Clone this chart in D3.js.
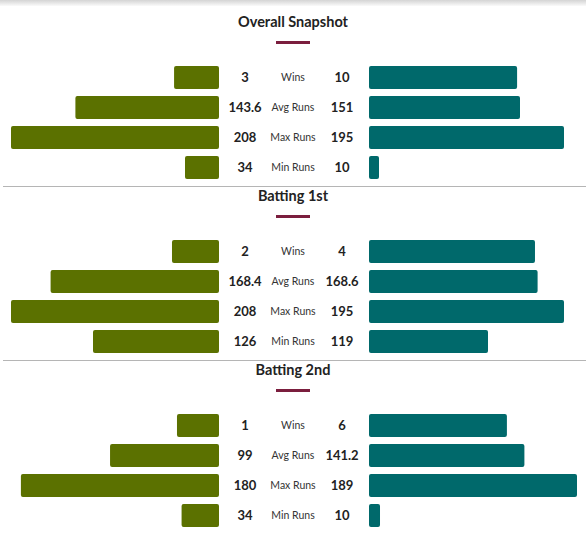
<!DOCTYPE html>
<html>
<head>
<meta charset="utf-8">
<script src="https://cdn.jsdelivr.net/npm/d3@7"></script>
<style>
	body { margin: 0; background: #fff; font-family: Lato, 'Noto Sans', sans-serif; }
	.title { font-size: 14.5px; font-weight: 700; fill: #222; }
	.value { font-size: 13px; font-weight: 700; fill: #222; }
	.metric { font-size: 10.5px; fill: #333; }
</style>
</head>
<body>
<div id="graphic"></div>
<script>
// section titles and row names
const sections = ['Overall Snapshot', 'Batting 1st', 'Batting 2nd'];
const metrics = ['Wins', 'Avg Runs', 'Max Runs', 'Min Runs'];

// numbers shown beside the bars (runs rows also drive the bar length)
const leftValues = [
	[3, 143.6, 208, 34],
	[2, 168.4, 208, 126],
	[1, 99, 180, 34]
];
const rightValues = [
	[10, 151, 195, 10],
	[4, 168.6, 195, 119],
	[6, 141.2, 189, 10]
];

// wins bars are drawn as a share of the track (%)
const leftWinShare = [21.6, 22.6, 20.2];
const rightWinShare = [71.2, 79.8, 66.3];

const colours = { left: '#5b7100', right: '#00696b', accent: '#7b1e3e' };

let graphic = d3.select('#graphic');

function drawGraphic() {
	let width = 586,
		height = 544;
	let cx = width / 2;
	let sectionHeight = 174;
	let rowStep = 30,
		barHeight = 23;
	let leftEdge = cx - 74,
		rightEdge = cx + 76,
		track = 208;

	let svg = graphic
		.append('svg')
		.attr('width', width)
		.attr('height', height);

	// faint shadow strip at top of the page
	let grad = svg.append('defs').append('linearGradient')
		.attr('id', 'topShade')
		.attr('x1', 0).attr('x2', 0).attr('y1', 0).attr('y2', 1);
	grad.append('stop').attr('offset', '0%').attr('stop-color', '#d4d4d4');
	grad.append('stop').attr('offset', '100%').attr('stop-color', '#fafafa');
	svg.append('rect')
		.attr('width', width)
		.attr('height', 6)
		.attr('fill', 'url(#topShade)');

	// wins share scale is common to all blocks
	const winX = d3.scaleLinear().domain([0, 100]).range([0, track]);

	sections.forEach((name, s) => {
		let g = svg.append('g')
			.attr('transform', 'translate(0,' + (s * sectionHeight) + ')');

		if (s > 0) {
			g.append('line')
				.attr('x1', 3).attr('x2', width)
				.attr('y1', 12.5).attr('y2', 12.5)
				.attr('stroke', '#b5b5b5')
				.attr('stroke-width', 1);
		}

		g.append('text')
			.attr('class', 'title')
			.attr('x', cx)
			.attr('y', 27)
			.attr('text-anchor', 'middle')
			.text(name);

		g.append('rect')
			.attr('x', cx - 17)
			.attr('y', 41)
			.attr('width', 34)
			.attr('height', 3)
			.attr('fill', colours.accent);

		// runs scaled to the biggest runs number of this block
		let runsMax = d3.max(leftValues[s].slice(1).concat(rightValues[s].slice(1)));
		const runX = d3.scaleLinear().domain([0, runsMax]).range([0, track]);

		const y = d3.scaleBand()
			.domain(metrics)
			.range([66, 66 + rowStep * metrics.length - (rowStep - barHeight)])
			.paddingInner((rowStep - barHeight) / rowStep)
			.paddingOuter(0);

		let rows = metrics.map((m, i) => ({
			metric: m,
			left: leftValues[s][i],
			right: rightValues[s][i],
			lw: i == 0 ? winX(leftWinShare[s]) : runX(leftValues[s][i]),
			rw: i == 0 ? winX(rightWinShare[s]) : runX(rightValues[s][i])
		}));

		g.selectAll('rect.left')
			.data(rows)
			.join('rect')
			.attr('class', 'left')
			.attr('x', (d) => leftEdge - d.lw)
			.attr('y', (d) => y(d.metric))
			.attr('width', (d) => d.lw)
			.attr('height', y.bandwidth())
			.attr('rx', 2)
			.attr('fill', colours.left);

		g.selectAll('rect.right')
			.data(rows)
			.join('rect')
			.attr('class', 'right')
			.attr('x', rightEdge)
			.attr('y', (d) => y(d.metric))
			.attr('width', (d) => d.rw)
			.attr('height', y.bandwidth())
			.attr('rx', 2)
			.attr('fill', colours.right);

		let mid = (d) => y(d.metric) + y.bandwidth() / 2;

		g.selectAll('text.lv')
			.data(rows)
			.join('text')
			.attr('class', 'value lv')
			.attr('x', cx - 48)
			.attr('y', mid)
			.attr('dy', '0.35em')
			.attr('text-anchor', 'middle')
			.text((d) => d.left);

		g.selectAll('text.metric')
			.data(rows)
			.join('text')
			.attr('class', 'metric')
			.attr('x', cx)
			.attr('y', mid)
			.attr('dy', '0.35em')
			.attr('text-anchor', 'middle')
			.text((d) => d.metric);

		g.selectAll('text.rv')
			.data(rows)
			.join('text')
			.attr('class', 'value rv')
			.attr('x', cx + 49)
			.attr('y', mid)
			.attr('dy', '0.35em')
			.attr('text-anchor', 'middle')
			.text((d) => d.right);
	});
}

drawGraphic();
</script>
</body>
</html>
